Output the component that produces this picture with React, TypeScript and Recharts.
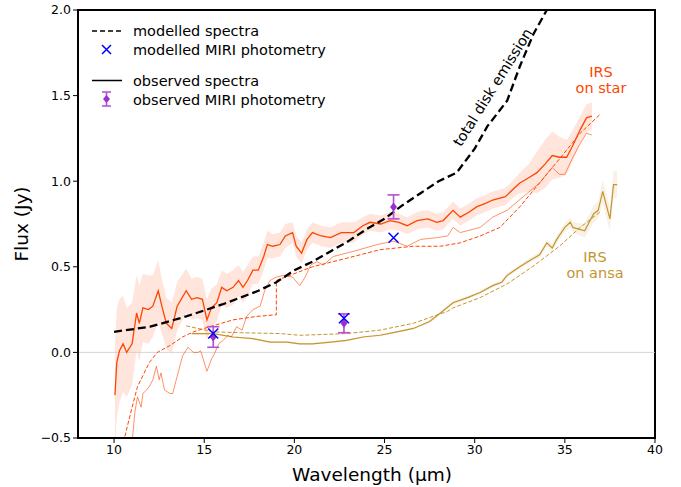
import {
  ComposedChart, Line, Area, Scatter, ErrorBar, XAxis, YAxis,
  ReferenceLine, ReferenceArea,
} from "recharts";

// total disk emission (modelled)
const totalX = [10, 12, 14, 16, 18, 19, 20, 21, 22, 23, 24, 25, 26, 27, 28, 29, 30, 30.7, 31.8, 32.5, 33.26, 34, 34.6];
const totalY = [0.12, 0.15, 0.21, 0.28, 0.36, 0.41, 0.48, 0.53, 0.59, 0.65, 0.72, 0.78, 0.86, 0.93, 1.0, 1.05, 1.19, 1.32, 1.47, 1.67, 1.86, 2.0, 2.15];

// IRS on star – observed (thick) with uncertainty band
const starX = [10.05, 10.15, 10.3, 10.5, 10.7, 11.0, 11.25, 11.4, 11.6, 11.9, 12.15, 12.45, 12.65, 12.9, 13.2, 13.5, 14.0, 14.3, 14.6, 14.9, 15.15, 15.4, 15.7, 15.97, 16.25, 16.6, 16.9, 17.15, 17.4, 17.7, 18.0, 18.3, 18.5, 18.8, 19.2, 19.5, 19.9, 20.1, 20.4, 20.7, 21.0, 21.5, 22.0, 22.6, 23.3, 23.8, 24.2, 24.8, 25.3, 25.8, 26.25, 26.8, 27.4, 27.9, 28.25, 28.8, 29.2, 29.7, 30.1, 30.6, 31.0, 31.7, 32.1, 32.5, 33.0, 33.45, 33.9, 34.3, 34.7, 35.1, 35.4, 35.85, 36.2, 36.5];
const starY = [-0.25, -0.06, 0.01, 0.05, 0.0, 0.05, 0.23, 0.17, 0.26, 0.25, 0.27, 0.36, 0.27, 0.17, 0.14, 0.27, 0.36, 0.31, 0.32, 0.31, 0.19, 0.26, 0.29, 0.38, 0.36, 0.38, 0.42, 0.38, 0.42, 0.48, 0.48, 0.56, 0.63, 0.62, 0.63, 0.68, 0.7, 0.62, 0.58, 0.66, 0.7, 0.68, 0.67, 0.7, 0.7, 0.74, 0.76, 0.75, 0.77, 0.76, 0.74, 0.77, 0.78, 0.76, 0.77, 0.83, 0.79, 0.82, 0.85, 0.87, 0.89, 0.91, 0.95, 0.99, 1.02, 1.05, 1.1, 1.15, 1.14, 1.14, 1.2, 1.3, 1.37, 1.38];
const starErr = [0.3, 0.32, 0.3, 0.28, 0.26, 0.24, 0.22, 0.22, 0.2, 0.2, 0.18, 0.18, 0.16, 0.15, 0.15, 0.14, 0.13, 0.12, 0.12, 0.12, 0.12, 0.11, 0.11, 0.1, 0.1, 0.1, 0.09, 0.09, 0.09, 0.08, 0.08, 0.08, 0.08, 0.07, 0.07, 0.07, 0.06, 0.06, 0.06, 0.06, 0.06, 0.06, 0.06, 0.06, 0.06, 0.05, 0.05, 0.05, 0.05, 0.05, 0.05, 0.05, 0.05, 0.05, 0.05, 0.05, 0.05, 0.05, 0.05, 0.05, 0.05, 0.05, 0.05, 0.06, 0.08, 0.12, 0.14, 0.14, 0.12, 0.1, 0.09, 0.08, 0.08, 0.08];

// IRS on star – thin observed line
const thinX = [10.9, 11.05, 11.15, 11.3, 11.5, 11.6, 11.8, 11.95, 12.15, 12.35, 12.5, 12.6, 12.8, 13.1, 13.25, 13.55, 13.8, 14.1, 14.4, 14.65, 14.8, 15.15, 15.4, 15.6, 15.8, 16.05, 16.3, 16.5, 16.8, 17.1, 17.35, 17.7, 18.1, 18.35, 18.65, 19.0, 19.4, 19.9, 20.3, 20.6, 20.9, 21.25, 21.6, 22.15, 22.9, 23.6, 24.6, 25.5, 26.25, 27.0, 27.9, 28.5, 28.8, 29.2, 30.3, 31.0, 31.8, 32.7, 33.6, 34.3, 34.7, 35.0, 35.4, 35.85, 36.2, 36.5];
const thinY = [-0.6, -0.47, -0.35, -0.26, -0.32, -0.24, -0.22, -0.2, -0.16, -0.08, -0.16, -0.12, -0.22, -0.24, -0.24, -0.12, -0.02, 0.03, 0.0, 0.0, 0.01, -0.11, -0.04, 0.0, 0.05, 0.07, 0.1, 0.09, 0.15, 0.13, 0.21, 0.25, 0.27, 0.36, 0.42, 0.44, 0.45, 0.44, 0.39, 0.44, 0.51, 0.53, 0.51, 0.56, 0.58, 0.6, 0.63, 0.65, 0.62, 0.66, 0.67, 0.68, 0.73, 0.7, 0.73, 0.79, 0.83, 0.91, 0.99, 1.08, 1.04, 1.04, 1.13, 1.22, 1.28, 1.27];

// IRS on star – modelled (dashed)
const starModX = [10.5, 10.6, 11.0, 11.3, 11.95, 12.4, 13.1, 13.8, 14.4, 15.3, 16.6, 17.9, 19.0, 19.0, 19.75, 21.0, 22.9, 24.75, 26.6, 28.1, 29.2, 30.3, 31.4, 32.5, 33.6, 34.7, 35.85, 36.95];
const starModY = [-0.56, -0.49, -0.32, -0.2, -0.06, 0.0, 0.04, 0.09, 0.12, 0.15, 0.19, 0.21, 0.22, 0.42, 0.45, 0.5, 0.55, 0.6, 0.62, 0.62, 0.64, 0.68, 0.73, 0.85, 0.99, 1.13, 1.28, 1.39];

// IRS on ansa – observed and modelled
const ansaX = [14.3, 15.5, 16.6, 17.7, 18.65, 19.6, 20.3, 21.0, 22.0, 22.9, 23.8, 24.75, 25.7, 26.6, 27.5, 28.1, 28.8, 29.6, 30.3, 31.0, 31.5, 31.8, 32.5, 33.1, 33.6, 34.0, 34.3, 34.55, 35.0, 35.3, 35.45, 36.1, 36.6, 36.85, 37.1, 37.5, 37.7, 37.9];
const ansaY = [0.11, 0.11, 0.09, 0.08, 0.06, 0.06, 0.05, 0.05, 0.06, 0.07, 0.09, 0.1, 0.12, 0.14, 0.18, 0.23, 0.29, 0.32, 0.35, 0.39, 0.41, 0.45, 0.5, 0.54, 0.57, 0.64, 0.61, 0.66, 0.73, 0.76, 0.73, 0.71, 0.81, 0.83, 0.94, 0.78, 0.98, 0.98];
const ansaErr = [0.005, 0.005, 0.005, 0.005, 0.005, 0.005, 0.005, 0.005, 0.005, 0.005, 0.005, 0.005, 0.005, 0.005, 0.008, 0.01, 0.01, 0.01, 0.01, 0.01, 0.012, 0.012, 0.012, 0.015, 0.015, 0.02, 0.02, 0.02, 0.025, 0.03, 0.03, 0.04, 0.05, 0.05, 0.07, 0.07, 0.08, 0.08];
const ansaModX = [14.0, 15.5, 17.0, 19.2, 20.3, 22.9, 24.75, 26.6, 28.5, 28.8, 30.3, 31.8, 33.2, 34.7, 35.85, 36.95];
const ansaModY = [0.155, 0.12, 0.115, 0.11, 0.1, 0.11, 0.13, 0.17, 0.24, 0.26, 0.32, 0.4, 0.5, 0.62, 0.73, 0.82];

// MIRI photometry
const photX = [15.5, 22.75, 25.5];
const photObs = [0.09, 0.17, 0.85];
const photObsErr = [0.06, 0.055, 0.07];
const photMod = [0.11, 0.2, 0.67];

const xTicks = [10, 15, 20, 25, 30, 35, 40];
const yTicks = [-0.5, 0, 0.5, 1.0, 1.5, 2.0];

const pts = (xs: number[], ys: number[]) => xs.map((x, i) => ({ x, y: ys[i] }));
const band = (xs: number[], ys: number[], es: number[]) =>
  xs.map((x, i) => ({ x, band: [ys[i] - es[i], ys[i] + es[i]] }));

const STAR = "#ff4500";
const ANSA = "#c4952f";
const FONT = "DejaVu Sans, sans-serif";
const FS = 14.5;

const Cross = (p: any) => (
  <path
    d={`M${p.cx - 5},${p.cy - 5}L${p.cx + 5},${p.cy + 5}M${p.cx - 5},${p.cy + 5}L${p.cx + 5},${p.cy - 5}`}
    stroke="#0000ff" strokeWidth={1.5} fill="none"
  />
);
const Diamond = (p: any) => (
  <path d={`M${p.cx},${p.cy - 4.5}L${p.cx + 3.5},${p.cy}L${p.cx},${p.cy + 4.5}L${p.cx - 3.5},${p.cy}Z`} fill="#9932cc" />
);

const tickStyle = { fill: "#000", fontSize: 12.5, fontFamily: FONT };
const fmtY = (v: number) => (v < 0 ? `\u2212${Math.abs(v).toFixed(1)}` : v.toFixed(1));

export default function App() {
  const obs = photX.map((x, i) => ({ x, y: photObs[i], err: photObsErr[i] }));
  const mod = pts(photX, photMod);

  return (
    <div style={{ position: "absolute", left: 0, top: 0, width: 681, height: 487, background: "#fff" }}>
      <ComposedChart width={681} height={487} margin={{ top: 10, right: 26, left: 0, bottom: 0 }}>
        <XAxis
          type="number" dataKey="x" domain={[8, 40]} ticks={xTicks} allowDataOverflow
          height={49} tick={tickStyle} tickSize={5} tickLine={{ stroke: "#000" }}
          axisLine={{ stroke: "#000", strokeWidth: 2 }}
        />
        <YAxis
          type="number" domain={[-0.5, 2]} ticks={yTicks} allowDataOverflow
          width={78} tick={tickStyle} tickSize={5} tickLine={{ stroke: "#000" }}
          tickFormatter={fmtY} axisLine={{ stroke: "#000", strokeWidth: 2 }}
        />
        <ReferenceLine y={0} stroke="#cccccc" strokeWidth={0.8} />

        <Area data={band(starX, starY, starErr)} dataKey="band" type="linear" stroke="none"
          fill={STAR} fillOpacity={0.14} isAnimationActive={false} />
        <Area data={band(ansaX, ansaY, ansaErr)} dataKey="band" type="linear" stroke="none"
          fill={ANSA} fillOpacity={0.12} isAnimationActive={false} />

        <Line data={pts(ansaModX, ansaModY)} dataKey="y" type="linear" stroke={ANSA} strokeWidth={1}
          strokeDasharray="4 2" dot={false} isAnimationActive={false} />
        <Line data={pts(ansaX, ansaY)} dataKey="y" type="linear" stroke={ANSA} strokeWidth={1.2}
          dot={false} isAnimationActive={false} />
        <Line data={pts(starModX, starModY)} dataKey="y" type="linear" stroke={STAR} strokeWidth={1}
          strokeDasharray="4 2" dot={false} isAnimationActive={false} />
        <Line data={pts(thinX, thinY)} dataKey="y" type="linear" stroke={STAR} strokeOpacity={0.85}
          strokeWidth={0.7} dot={false} isAnimationActive={false} />
        <Line data={pts(starX, starY)} dataKey="y" type="linear" stroke={STAR} strokeWidth={1.3}
          dot={false} isAnimationActive={false} />
        <Line data={pts(totalX, totalY)} dataKey="y" type="linear" stroke="#000" strokeWidth={2.3}
          strokeDasharray="8 4" dot={false} isAnimationActive={false} />

        <Scatter data={obs} dataKey="y" shape={Diamond} isAnimationActive={false}>
          <ErrorBar dataKey="err" direction="y" width={6} stroke="#b44fd6" strokeWidth={1.6} />
        </Scatter>
        <Scatter data={mod} dataKey="y" shape={Cross} isAnimationActive={false} />

        <ReferenceArea x1={8} x2={40} y1={-0.5} y2={2} fill="none" stroke="#000" strokeWidth={2} />
      </ComposedChart>

      <svg width={681} height={487} style={{ position: "absolute", left: 0, top: 0, pointerEvents: "none" }}
        fontFamily={FONT}>
        {/* legend */}
        <line x1={92} x2={122} y1={31} y2={31} stroke="#000" strokeWidth={1.5} strokeDasharray="5 3" />
        <text x={133} y={36} fontSize={FS}>modelled spectra</text>
        <path d="M102,45L111,54M102,54L111,45" stroke="#0000ff" strokeWidth={1.5} />
        <text x={133} y={55} fontSize={FS}>modelled MIRI photometry</text>
        <line x1={92} x2={122} y1={80.5} y2={80.5} stroke="#000" strokeWidth={1.5} />
        <text x={133} y={85.5} fontSize={FS}>observed spectra</text>
        <path d="M102,92L111,92M106.5,92L106.5,106M102,106L111,106" stroke="#b44fd6" strokeWidth={1.6} fill="none" />
        <path d="M106.5,95L110,99L106.5,103L103,99Z" fill="#9932cc" />
        <text x={133} y={105} fontSize={FS}>observed MIRI photometry</text>

        {/* annotations */}
        <text x={497} y={90} fontSize={FS} textAnchor="middle" transform="rotate(-58 497 90)">total disk emission</text>
        <text x={601} y={77} fontSize={FS} fill={STAR} textAnchor="middle">IRS</text>
        <text x={601} y={93} fontSize={FS} fill={STAR} textAnchor="middle">on star</text>
        <text x={595} y={262} fontSize={FS} fill={ANSA} textAnchor="middle">IRS</text>
        <text x={595} y={278} fontSize={FS} fill={ANSA} textAnchor="middle">on ansa</text>

        {/* axis titles */}
        <text x={372} y={481} fontSize={18.5} textAnchor="middle">Wavelength (µm)</text>
        <text x={28} y={224} fontSize={18.5} textAnchor="middle" transform="rotate(-90 28 224)">Flux (Jy)</text>
      </svg>
    </div>
  );
}
